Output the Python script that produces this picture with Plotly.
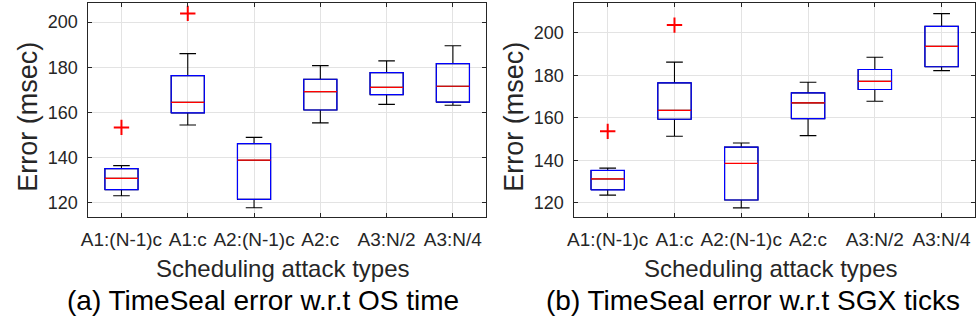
import plotly.graph_objects as go

categories = ["A1:(N-1)c", "A1:c", "A2:(N-1)c", "A2:c", "A3:N/2", "A3:N/4"]
positions = [1, 2, 3, 4, 5, 6]

# (a) error w.r.t OS time
os_lower = [123.2, 154.5, 117.9, 155.4, 163.6, 163.2]
os_q1 = [125.9, 159.8, 121.6, 161.1, 167.9, 164.6]
os_median = [130.9, 164.5, 138.9, 169.2, 171.1, 171.6]
os_q3 = [135.2, 176.3, 146.2, 174.7, 177.6, 181.6]
os_upper = [136.5, 186.0, 149.0, 180.7, 182.8, 189.5]
os_out_x = [1, 2]
os_out_y = [153.4, 203.8]

# (b) error w.r.t SGX ticks
sgx_lower = [123.6, 151.3, 117.6, 151.6, 167.8, 182.2]
sgx_q1 = [126.1, 159.3, 121.3, 159.6, 173.3, 184.0]
sgx_median = [131.2, 163.5, 138.5, 167.0, 177.1, 193.6]
sgx_q3 = [135.2, 176.4, 146.2, 171.7, 182.7, 203.0]
sgx_upper = [136.3, 186.2, 148.1, 176.7, 188.5, 209.0]
sgx_out_x = [1, 2]
sgx_out_y = [153.6, 203.6]

yticks = [120, 140, 160, 180, 200]
BOXW = 0.5
W, H = 976, 327

fig = go.Figure()


def add_panel(xa, ya, lower, q1, med, q3, upper, ox, oy):
    fig.add_trace(go.Box(
        x=positions, q1=q1, median=med, q3=q3, lowerfence=lower, upperfence=upper,
        width=BOXW, whiskerwidth=0.5, boxpoints=False,
        line=dict(color="#000000", width=1.1), fillcolor="rgba(0,0,0,0)",
        xaxis=xa, yaxis=ya, showlegend=False, hoverinfo="skip"))
    bx, by, mx, my = [], [], [], []
    for p, a, m, b in zip(positions, q1, med, q3):
        h = BOXW / 2
        bx += [p - h, p + h, p + h, p - h, p - h, None]
        by += [a, a, b, b, a, None]
        mx += [p - h, p + h, None]
        my += [m, m, None]
    fig.add_trace(go.Scatter(x=bx, y=by, mode="lines", line=dict(color="#0000ff", width=1.2),
                             xaxis=xa, yaxis=ya, showlegend=False, hoverinfo="skip"))
    fig.add_trace(go.Scatter(x=mx, y=my, mode="lines", line=dict(color="#ff0000", width=1.2),
                             xaxis=xa, yaxis=ya, showlegend=False, hoverinfo="skip"))
    fig.add_trace(go.Scatter(x=ox, y=oy, mode="markers",
                             marker=dict(symbol="cross-thin", size=11, line=dict(color="#ff0000", width=2)),
                             xaxis=xa, yaxis=ya, showlegend=False, hoverinfo="skip"))


add_panel("x", "y", os_lower, os_q1, os_median, os_q3, os_upper, os_out_x, os_out_y)
add_panel("x2", "y2", sgx_lower, sgx_q1, sgx_median, sgx_q3, sgx_upper, sgx_out_x, sgx_out_y)

ydom = [1 - 217 / H, 1 - 3 / H]
font = "Liberation Sans, Arial, Helvetica, sans-serif"
axis_common = dict(showline=True, mirror="allticks", linecolor="#262626", linewidth=1,
                   ticks="inside", ticklen=4, tickcolor="#262626",
                   showgrid=True, gridcolor="#e3e3e3", gridwidth=1, zeroline=False)
xfont = dict(family=font, size=19, color="#262626")
yfont = dict(family=font, size=18, color="#262626")

fig.update_layout(
    width=W, height=H, margin=dict(l=0, r=0, t=0, b=0),
    paper_bgcolor="white", plot_bgcolor="white",
    xaxis=dict(domain=[82 / W, 483 / W], range=[0.5, 6.5], tickvals=positions, ticktext=categories,
               anchor="y", ticklabelstandoff=5, tickfont=xfont, **axis_common),
    yaxis=dict(domain=ydom, range=[113.8, 208.4], tickvals=yticks, anchor="x",
               ticklabelstandoff=6, tickfont=yfont, **axis_common),
    xaxis2=dict(domain=[572 / W, 1.0], range=[0.5, 6.5], tickvals=positions, ticktext=categories,
                anchor="y2", ticklabelstandoff=5, tickfont=xfont, **axis_common),
    yaxis2=dict(domain=ydom, range=[113.3, 214.0], tickvals=yticks, anchor="x2",
                ticklabelstandoff=6, tickfont=yfont, **axis_common),
)

ann = [
    dict(text="Error (msec)", x=21 / W, y=1 - 117 / H, textangle=-90, size=27, color="#262626"),
    dict(text="Error (msec)", x=511 / W, y=1 - 117 / H, textangle=-90, size=27, color="#262626"),
    dict(text="Scheduling attack types", x=278 / W, y=1 - 268 / H, textangle=0, size=24, color="#262626"),
    dict(text="Scheduling attack types", x=770 / W, y=1 - 268 / H, textangle=0, size=24, color="#262626"),
    dict(text="(a) TimeSeal error w.r.t OS time", x=258 / W, y=1 - 300 / H, textangle=0, size=28, color="#000000"),
    dict(text="(b) TimeSeal error w.r.t SGX ticks", x=752 / W, y=1 - 300 / H, textangle=0, size=28, color="#000000"),
]
for a in ann:
    fig.add_annotation(text=a["text"], x=a["x"], y=a["y"], xref="paper", yref="paper",
                       xanchor="center", yanchor="middle", textangle=a["textangle"], showarrow=False,
                       font=dict(family=font, size=a["size"], color=a["color"]))

fig.write_html("out.html")
